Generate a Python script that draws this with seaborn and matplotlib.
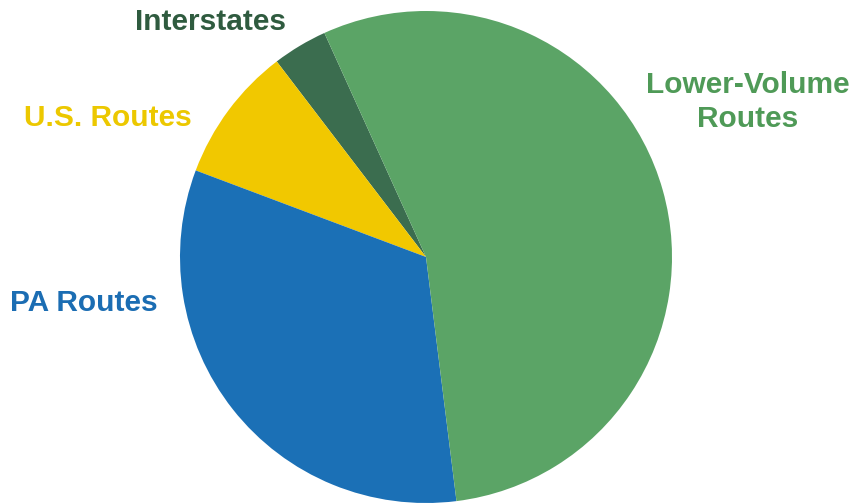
import matplotlib
matplotlib.use("Agg")
import matplotlib.pyplot as plt
import seaborn as sns

# data (share of road network)
categories = ["Interstates", "U.S. Routes", "PA Routes", "Lower-Volume\nRoutes"]
shares = [3.6, 8.9, 32.7, 54.8]
colors = ["#3b6d4f", "#f1c800", "#1b70b6", "#5ba466"]
text_colors = ["#2f5b3f", "#ecc800", "#1b6db3", "#4f9a57"]

sns.set_theme(style="white")
plt.rcParams["font.family"] = ["Liberation Sans", "DejaVu Sans"]

W, H = 855, 503
fig = plt.figure(figsize=(W / 100, H / 100), dpi=100)
ax = fig.add_axes([0, 0, 1, 1])

# pie is centred around (426, 257) in picture pixels, so flip y
ax.pie(shares, colors=colors, startangle=114.4, counterclock=True,
       center=(426, H - 257), radius=246, frame=True,
       wedgeprops=dict(linewidth=0))
ax.set_xlim(0, W)
ax.set_ylim(0, H)
ax.set_aspect("equal")
ax.axis("off")

# labels placed beside the pie
label_pos = [(210, 22), (108, 118), (84, 303), (748, 102)]
for name, (x, y), c in zip(categories, label_pos, text_colors):
    ax.text(x, H - y, name, ha="center", va="center", fontsize=21.5,
            fontweight="bold", color=c, linespacing=1.25)

fig.savefig("out.png", dpi=100)
